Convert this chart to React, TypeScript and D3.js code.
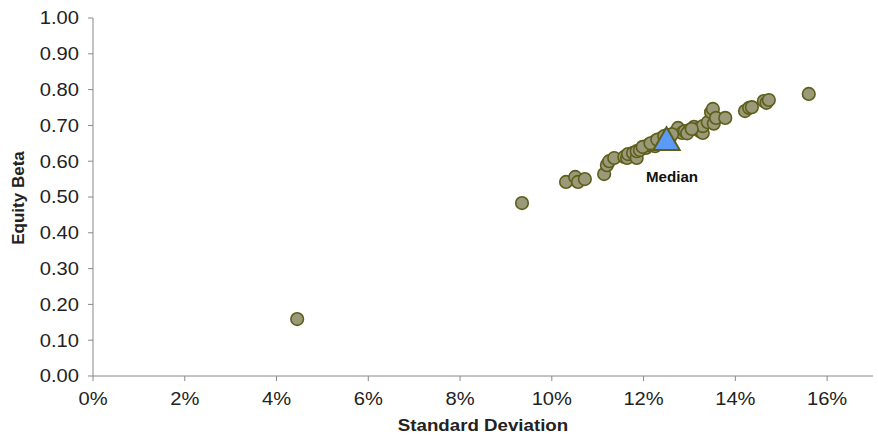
import React from "react";
import * as d3 from "d3";

const stdDev: number[] = [
  4.45, 9.35, 10.31, 10.51, 10.57, 10.72, 11.14, 11.2, 11.25, 11.36, 11.58, 11.64, 11.66,
  11.77, 11.85, 11.85, 11.92, 12.05, 12.1, 12.25, 12.25, 12.36, 12.4, 12.51, 12.57, 12.7,
  12.75, 12.84, 12.9, 13.0, 13.1, 13.17, 13.23, 13.29, 13.29, 13.4, 13.47, 13.51, 13.53,
  13.58, 13.78, 14.21, 14.3, 14.36, 14.62, 14.68, 14.73, 15.6, 11.98, 12.15, 12.3, 12.45,
  12.62, 12.95, 13.05,
];
const beta: number[] = [
  0.159, 0.483, 0.542, 0.556, 0.542, 0.55, 0.564, 0.589, 0.6, 0.609, 0.612, 0.609, 0.62,
  0.623, 0.609, 0.628, 0.631, 0.637, 0.645, 0.656, 0.642, 0.648, 0.665, 0.673, 0.665, 0.682,
  0.693, 0.679, 0.684, 0.687, 0.696, 0.69, 0.684, 0.679, 0.698, 0.709, 0.737, 0.746, 0.705,
  0.721, 0.721, 0.74, 0.749, 0.751, 0.768, 0.763, 0.771, 0.788, 0.64, 0.65, 0.66, 0.67,
  0.675, 0.678, 0.69,
];
const medianStd = 12.5;
const medianBeta = 0.655;
const xTicks: number[] = [0, 2, 4, 6, 8, 10, 12, 14, 16];
const yTicks: number[] = [0, 0.1, 0.2, 0.3, 0.4, 0.5, 0.6, 0.7, 0.8, 0.9, 1.0];

export default function App() {
  const W = 878, H = 440;
  const x = d3.scaleLinear().domain([0, 17]).range([93, 873]);
  const y = d3.scaleLinear().domain([0, 1]).range([376, 18]);
  const tri = d3.symbol().type(d3.symbolTriangle).size(300)();
  const font = "'Liberation Sans', Arial, sans-serif";
  const pts = stdDev.map((s, i) => ({ s, b: beta[i] }));
  return (
    <svg width={W} height={H} style={{ position: "absolute", left: 0, top: 0 }}>
      <rect width={W} height={H} fill="#fff" />
      <line x1={x(0)} x2={x(17)} y1={y(0)} y2={y(0)} stroke="#888" />
      <line x1={x(0)} x2={x(0)} y1={y(0)} y2={y(1)} stroke="#888" />
      {yTicks.map((t) => (
        <g key={"y" + t}>
          <line x1={x(0) - 5} x2={x(0)} y1={y(t)} y2={y(t)} stroke="#888" />
          <text transform={`translate(${x(0) - 14},${y(t)}) scale(1.12,1)`} dy="0.35em" textAnchor="end" fontFamily={font} fontSize={18} fill="#222">
            {t.toFixed(2)}
          </text>
        </g>
      ))}
      {xTicks.map((t) => (
        <g key={"x" + t}>
          <line x1={x(t)} x2={x(t)} y1={y(0)} y2={y(0) + 5} stroke="#888" />
          <text transform={`translate(${x(t)},${y(0) + 29}) scale(1.12,1)`} textAnchor="middle" fontFamily={font} fontSize={18} fill="#222">
            {t + "%"}
          </text>
        </g>
      ))}
      <text transform="translate(483,431) scale(1.1,1)" textAnchor="middle" fontFamily={font} fontSize={17} fontWeight="bold" fill="#222">
        Standard Deviation
      </text>
      <text transform={`translate(24,198) rotate(-90)`} textAnchor="middle" fontFamily={font} fontSize={17} fontWeight="bold" fill="#222">
        Equity Beta
      </text>
      {pts.map((p, i) => (
        <circle key={i} cx={x(p.s)} cy={y(p.b)} r={6.3} fill="#9a9a78" stroke="#5e5e1c" strokeWidth={1.6} />
      ))}
      <path d={tri as string} transform={`translate(${x(medianStd)},${y(medianBeta) + 1})`} fill="#5b9bf7" stroke="#5e5e1c" strokeWidth={2} />
      <text transform="translate(672,182) scale(1.08,1)" textAnchor="middle" fontFamily={font} fontSize={14} fontWeight="bold" fill="#111">
        Median
      </text>
    </svg>
  );
}
